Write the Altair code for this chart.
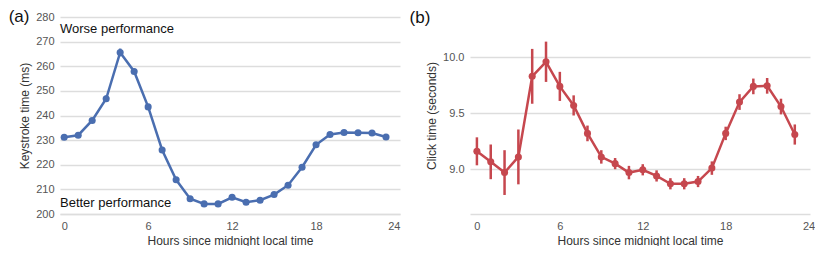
import altair as alt
import pandas as pd

hours = list(range(24))
keystroke_ms = [231.2, 232.0, 238.0, 246.8, 265.6, 257.9, 243.5, 226.0, 213.9, 206.2, 204.1, 204.1,
                206.8, 204.8, 205.6, 207.9, 211.7, 219.0, 228.1, 232.3, 233.1, 233.0, 232.9, 231.3]
keystroke_err = [0.6, 0.6, 0.9, 1.3, 1.6, 1.0, 0.7, 0.5, 0.5, 0.4, 0.4, 0.4,
                 0.4, 0.4, 0.4, 0.4, 0.4, 0.5, 0.5, 0.5, 0.5, 0.5, 0.5, 0.5]
click_s = [9.16, 9.066, 8.97, 9.11, 9.83, 9.96, 9.74, 9.57, 9.32, 9.11, 9.05, 8.97,
           8.995, 8.94, 8.87, 8.87, 8.89, 9.01, 9.32, 9.60, 9.74, 9.745, 9.56, 9.31]
click_err = [0.125, 0.155, 0.2, 0.245, 0.245, 0.18, 0.13, 0.09, 0.07, 0.06, 0.05, 0.06,
             0.05, 0.05, 0.05, 0.05, 0.05, 0.06, 0.06, 0.07, 0.07, 0.07, 0.07, 0.09]

x_ticks = [0, 6, 12, 18, 24]
a_yticks = [200, 210, 220, 230, 240, 250, 260, 270, 280]
b_yticks = [9.0, 9.5, 10.0]

note_text = ["Worse performance", "Better performance"]
note_y = [275.0, 204.6]

FONT = "Liberation Sans"
BLUE = "#4a6eb0"
RED = "#c6474e"
GRID = "#dddddd"


def frame(vals, errs):
    return pd.DataFrame({
        "h": hours,
        "v": vals,
        "lo": [v - e for v, e in zip(vals, errs)],
        "hi": [v + e for v, e in zip(vals, errs)],
    })


def panel(df, color, xdomain, ydomain, yticks, ytitle, fmt, label, label_dx, label_dy,
          notes=None):
    xaxis = alt.Axis(values=x_ticks, title="Hours since midnight local time",
                     grid=False, domain=True, domainColor=GRID, domainWidth=1.5,
                     ticks=False, labelPadding=6, titlePadding=4,
                     labelFontSize=11, titleFontSize=12, labelColor="#555555",
                     titleColor="#333333", titleFontWeight="normal",
                     labelFont=FONT, titleFont=FONT, labelOverlap=False)
    yaxis = alt.Axis(values=yticks, title=ytitle, format=fmt, grid=True,
                     gridColor=GRID, gridWidth=1.5, domain=False, ticks=False,
                     labelPadding=6, titlePadding=4, labelFontSize=11,
                     titleFontSize=12, labelColor="#555555", titleColor="#333333",
                     titleFontWeight="normal", labelFont=FONT, titleFont=FONT,
                     labelOverlap=False)
    xs = alt.Scale(domain=xdomain, nice=False, zero=False)
    ys = alt.Scale(domain=ydomain, nice=False, zero=False)
    x = alt.X("h:Q", scale=xs, axis=xaxis)
    base = alt.Chart(df)
    line = base.mark_line(color=color, strokeWidth=2.5).encode(
        x=x, y=alt.Y("v:Q", scale=ys, axis=yaxis))
    err = base.mark_rule(color=color, strokeWidth=2.5).encode(
        x=x, y=alt.Y("lo:Q", scale=ys, axis=yaxis), y2="hi:Q")
    pts = base.mark_circle(color=color, size=50, opacity=1).encode(
        x=x, y=alt.Y("v:Q", scale=ys, axis=yaxis))
    layers = [line, err, pts]
    if notes is not None:
        txt = alt.Chart(notes).mark_text(align="left", baseline="middle", fontSize=13,
                                         font=FONT, color="#111111").encode(
            x=x, y=alt.Y("v:Q", scale=ys, axis=yaxis), text="t:N")
        layers.append(txt)
    return alt.layer(*layers).properties(
        width=340, height=197,
        title=alt.TitleParams(label, anchor="start", frame="bounds", fontSize=17,
                              font=FONT, fontWeight="normal", color="#111111",
                              dx=label_dx, dy=label_dy, offset=0),
    )


dfa = frame(keystroke_ms, keystroke_err)
dfb = frame(click_s, click_err)
notes_df = pd.DataFrame({"h": [-0.3, -0.3], "v": note_y, "t": note_text})

pa = panel(dfa, BLUE, [-0.3, 24], [200, 280], a_yticks, "Keystroke time (ms)", "d",
           "(a)", -10, 15, notes_df)
pb = panel(dfb, RED, [-0.5, 24.1], [8.6, 10.36], b_yticks, "Click time (seconds)", ".1f",
           "(b)", -16, 10)

chart = alt.hconcat(pa, pb, spacing=9).properties(
    padding={"left": 0, "top": 0, "right": 0, "bottom": 0}
).configure_view(stroke=None)

chart.save("out.html", embed_options={"renderer": "svg", "actions": False})
